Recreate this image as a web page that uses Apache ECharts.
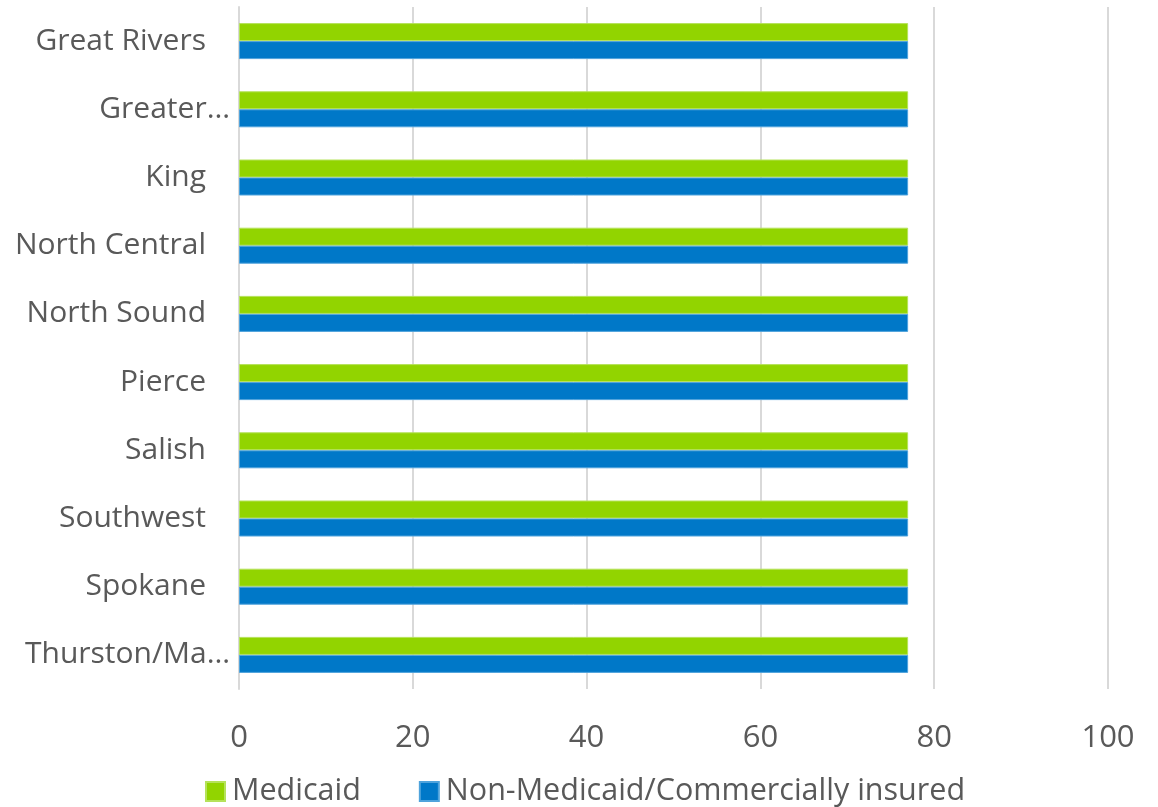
<!DOCTYPE html>
<html><head><meta charset="utf-8">
<script src="https://cdn.jsdelivr.net/npm/echarts@6/dist/echarts.min.js"></script>
<style>html,body{margin:0;padding:0;background:#fff}#c{width:1158px;height:807px}</style>
</head><body><div id="c"></div>
<script>
const categories = ["Great Rivers","Greater…","King","North Central","North Sound","Pierce","Salish","Southwest","Spokane","Thurston/Ma…"];
const medicaid = [77,77,77,77,77,77,77,77,77,77];
const nonMedicaid = [77,77,77,77,77,77,77,77,77,77];
const seriesNames = ["Medicaid","Non-Medicaid/Commercially insured"];
const xTicks = {min:0, max:100, interval:20};

const font = "'Open Sans', 'Noto Sans', sans-serif";
const chart = echarts.init(document.getElementById('c'));
chart.setOption({
  animation:false,
  grid:{left:239, right:50, top:7, bottom:118, containLabel:false},
  legend:{
    bottom:-5, left:200, itemWidth:19, itemHeight:19, itemGap:58,
    icon:'rect',
    textStyle:{fontFamily:font, fontSize:30.5, color:'#595959', padding:[0,0,0,2]},
    data:seriesNames
  },
  xAxis:{
    type:'value', min:xTicks.min, max:xTicks.max, interval:xTicks.interval,
    axisLine:{show:false}, axisTick:{show:false},
    splitLine:{lineStyle:{color:'#d9d9d9', width:2}},
    axisLabel:{fontFamily:font, fontSize:31, color:'#595959', margin:34}
  },
  yAxis:{
    type:'category', inverse:true, data:categories,
    axisLine:{show:true, lineStyle:{color:'#d9d9d9', width:2}},
    axisTick:{show:false},
    axisLabel:{
      fontFamily:font, fontSize:30, color:'#595959', margin:33,
      formatter:function(v){ return v.indexOf('…')>=0 ? '{t|'+v+'}' : v; },
      rich:{t:{fontFamily:font, fontSize:30, color:'#595959', padding:[0,-24,0,0]}}
    }
  },
  series:[
    {name:seriesNames[0], type:'bar', data:medicaid, barWidth:18, barGap:'0%', barCategoryGap:'47%',
     itemStyle:{color:'#92d400', borderColor:'#b5e25a', borderWidth:1}},
    {name:seriesNames[1], type:'bar', data:nonMedicaid, barWidth:18, barGap:'0%',
     itemStyle:{color:'#0078c8', borderColor:'#4fa3dc', borderWidth:1}}
  ]
});
</script></body></html>
